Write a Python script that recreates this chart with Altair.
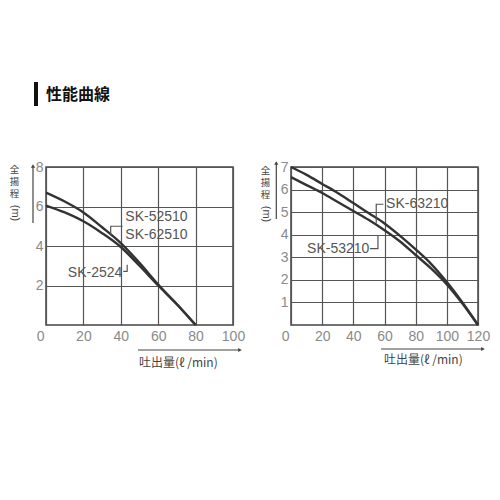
import altair as alt
import pandas as pd

# ---- data ----
left_x = [0, 10, 20, 30, 40, 50, 60, 70, 80]
sk52510 = [6.7, 6.25, 5.7, 4.95, 4.15, 3.15, 2.05, 1.05, 0]
sk2524 = [6.05, 5.7, 5.25, 4.65, 3.95, 3.0, 2.0, 1.05, 0]

right_x = [0, 10, 20, 30, 40, 50, 60, 70, 80, 90, 100, 110, 120]
sk63210 = [7.0, 6.65, 6.25, 5.85, 5.4, 4.95, 4.5, 3.95, 3.35, 2.7, 1.9, 1.0, 0]
sk53210 = [6.55, 6.2, 5.85, 5.45, 5.05, 4.65, 4.2, 3.7, 3.1, 2.5, 1.8, 0.95, 0]

left_xticks = [0, 20, 40, 60, 80, 100]
left_yticks = [2, 4, 6, 8]
right_xticks = [0, 20, 40, 60, 80, 100, 120]
right_yticks = [1, 2, 3, 4, 5, 6, 7]

left_labels = ["SK-52510", "SK-62510", "SK-2524"]
left_label_x = [42.4, 42.4, 40.8]
left_label_y = [5.48, 4.57, 2.62]
left_label_align = ["left", "left", "right"]

right_labels = ["SK-63210", "SK-53210"]
right_label_x = [61.0, 50.3]
right_label_y = [5.34, 3.38]
right_label_align = ["left", "right"]

left_leader_seg = [0, 0, 0, 1, 1, 1]
left_leader_x = [34.6, 34.6, 41.0, 41.3, 43.4, 43.4]
left_leader_y = [4.55, 5.0, 5.0, 2.72, 2.72, 3.05]

right_leader_seg = [0, 0, 0, 1, 1, 1]
right_leader_x = [54.7, 54.7, 59.3, 50.7, 55.8, 55.8]
right_leader_y = [4.5, 5.35, 5.35, 3.38, 3.38, 3.98]

title_text = "性能曲線"
y_title_chars = ["全", "揚", "程"]
y_title_unit = "(m)"
x_title_text = "吐出量(ℓ /min)"

W, H = 187, 158
LINE_COLOR = "#333333"
LABEL_FONT = "Liberation Sans"
CJK_FONT = "Noto Sans CJK JP"

one = pd.DataFrame({"k": [0]})


def curves_df(xs, a, b, na, nb):
    rows = [{"x": x, "y": y, "s": na, "i": i} for i, (x, y) in enumerate(zip(xs, a))]
    rows += [{"x": x, "y": y, "s": nb, "i": i} for i, (x, y) in enumerate(zip(xs, b))]
    return pd.DataFrame(rows)


def panel(xs, a, b, na, nb, xdom, ydom, xticks, yticks,
          labels, lx, ly, lal, seg, sx, sy,
          ytitle_x, ytitle_y0, arrow_x, arrow_y1, arrow_y2,
          xarrow_y, xarrow_x1, xarrow_x2, xtitle_x, xtitle_y,
          anchors, extra=None):
    xs_ = alt.Scale(domain=xdom, nice=False, zero=False)
    ys_ = alt.Scale(domain=ydom, nice=False, zero=False)
    xax = alt.Axis(values=xticks, tickCount=50, grid=True, title=None, domain=False,
                   ticks=False, labelPadding=4, format="d", labelOverlap=False,
                   labelAlign={"condition": {"test": "datum.value == 0", "value": "right"},
                               "value": "center"},
                   labelOffset={"condition": {"test": "datum.value == 0", "value": -2},
                                "value": 0})
    yax = alt.Axis(values=yticks, tickCount=50, grid=True, title=None, domain=False,
                   ticks=False, labelPadding=3, format="d", labelOverlap=False)

    cdf = curves_df(xs, a, b, na, nb)
    lines = alt.Chart(cdf).mark_line(color=LINE_COLOR, strokeWidth=2.4,
                                     interpolate="monotone").encode(
        x=alt.X("x:Q", scale=xs_, axis=xax),
        y=alt.Y("y:Q", scale=ys_, axis=yax),
        detail="s:N",
        order="i:Q",
    )

    ldf = pd.DataFrame({"t": labels, "x": lx, "y": ly, "a": lal})
    texts = []
    for al in ["left", "right"]:
        sub = ldf[ldf["a"] == al]
        if len(sub):
            texts.append(alt.Chart(sub).mark_text(
                align=al, baseline="middle", fontSize=14, font=LABEL_FONT,
                color="#555555").encode(
                x=alt.X("x:Q", scale=xs_), y=alt.Y("y:Q", scale=ys_), text="t:N"))

    sdf = pd.DataFrame({"seg": seg, "x": sx, "y": sy, "i": list(range(len(sx)))})
    leaders = alt.Chart(sdf).mark_line(color="#555555", strokeWidth=1.2).encode(
        x=alt.X("x:Q", scale=xs_), y=alt.Y("y:Q", scale=ys_), detail="seg:N", order="i:Q")

    deco = []
    # y axis title (stacked characters + rotated unit)
    for k, ch in enumerate(y_title_chars):
        deco.append(alt.Chart(one).mark_text(
            align="center", baseline="middle", fontSize=9.5, font=CJK_FONT,
            color="#444444").encode(
            x=alt.value(ytitle_x), y=alt.value(ytitle_y0 + 4 + 12 * k), text=alt.value(ch)))
    deco.append(alt.Chart(one).mark_text(
        align="center", baseline="middle", fontSize=11, font=LABEL_FONT, angle=90,
        color="#444444").encode(
        x=alt.value(ytitle_x), y=alt.value(ytitle_y0 + 47), text=alt.value(y_title_unit)))
    # y arrow
    deco.append(alt.Chart(one).mark_rule(color="#444444", strokeWidth=1.2).encode(
        x=alt.value(arrow_x), y=alt.value(arrow_y1 + 2), y2=alt.value(arrow_y2)))
    deco.append(alt.Chart(one).mark_point(shape="triangle-up", filled=True, size=18,
                                          color="#444444", opacity=1).encode(
        x=alt.value(arrow_x), y=alt.value(arrow_y1 + 1)))
    # x arrow
    deco.append(alt.Chart(one).mark_rule(color="#444444", strokeWidth=1.2).encode(
        x=alt.value(xarrow_x1), x2=alt.value(xarrow_x2 - 2), y=alt.value(xarrow_y)))
    deco.append(alt.Chart(one).mark_point(shape="triangle-right", filled=True, size=18,
                                          color="#444444", opacity=1).encode(
        x=alt.value(xarrow_x2 - 1), y=alt.value(xarrow_y)))
    # x axis title
    deco.append(alt.Chart(one).mark_text(
        align="left", baseline="middle", fontSize=12, font=CJK_FONT,
        color="#444444").encode(
        x=alt.value(xtitle_x), y=alt.value(xtitle_y), text=alt.value(x_title_text)))
    # invisible layout anchors
    for (ax, ay) in anchors:
        deco.append(alt.Chart(one).mark_rect(opacity=0).encode(
            x=alt.value(ax), x2=alt.value(ax + 1), y=alt.value(ay), y2=alt.value(ay + 1)))
    if extra:
        deco += extra

    return alt.layer(lines, leaders, *texts, *deco).properties(width=W, height=H)


title_layers = [
    alt.Chart(one).mark_rect(color="#111111").encode(
        x=alt.value(-12), x2=alt.value(-8), y=alt.value(-85), y2=alt.value(-61)),
    alt.Chart(one).mark_text(align="left", baseline="middle", fontSize=16,
                             fontWeight="bold", font=CJK_FONT, color="#111111").encode(
        x=alt.value(0), y=alt.value(-72), text=alt.value(title_text)),
]

left = panel(left_x, sk52510, sk2524, "SK-52510", "SK-2524", [0, 100], [0, 8],
             left_xticks, left_yticks, left_labels, left_label_x, left_label_y,
             left_label_align, left_leader_seg, left_leader_x, left_leader_y,
             ytitle_x=-31.5, ytitle_y0=-1, arrow_x=-13, arrow_y1=-2, arrow_y2=56,
             xarrow_y=183, xarrow_x1=92, xarrow_x2=195, xtitle_x=93, xtitle_y=196,
             anchors=[(-37, -156), (200, 0)], extra=title_layers)

right = panel(right_x, sk63210, sk53210, "SK-63210", "SK-53210", [0, 120], [0, 7],
              right_xticks, right_yticks, right_labels, right_label_x, right_label_y,
              right_label_align, right_leader_seg, right_leader_x, right_leader_y,
              ytitle_x=-25.5, ytitle_y0=0, arrow_x=-14.7, arrow_y1=-5, arrow_y2=52,
              xarrow_y=182, xarrow_x1=90, xarrow_x2=193, xtitle_x=93, xtitle_y=193,
              anchors=[(-32, -158)])

chart = alt.hconcat(left, right, spacing=10).properties(
    padding={"left": 0, "top": 0, "right": 0, "bottom": 0}
).configure_view(stroke="#444444", strokeWidth=1.5).configure_axis(
    gridColor="#555555", gridWidth=1.2, gridOpacity=1,
    labelColor="#8a8a8a", labelFontSize=14, labelFont=LABEL_FONT,
)

chart.save("out.html", embed_options={"renderer": "svg", "actions": False})
